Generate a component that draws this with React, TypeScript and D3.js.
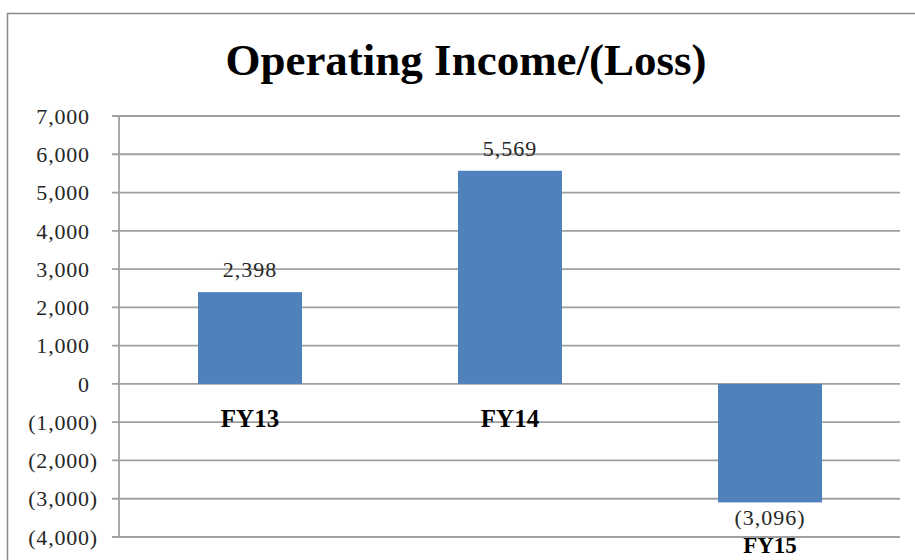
import React from "react";
import * as d3 from "d3";

const categories = ["FY13", "FY14", "FY15"];
const values = [2398, 5569, -3096];
const yTickValues = [-4000, -3000, -2000, -1000, 0, 1000, 2000, 3000, 4000, 5000, 6000, 7000];
const title = "Operating Income/(Loss)";

const width = 915;
const height = 560;
const margin = { top: 116, right: 15, bottom: 23, left: 120 };

// Excel style accounting format: negatives in parentheses
const fmt = (v: number) => (v < 0 ? `(${d3.format(",")(-v)})` : d3.format(",")(v));

const App = () => {
    const xScale = d3
        .scaleBand()
        .domain(categories)
        .range([margin.left, width - margin.right])
        .paddingInner(0.6)
        .paddingOuter(0.3);

    const yScale = d3
        .scaleLinear()
        .domain([-4000, 7000])
        .range([height - margin.bottom, margin.top]);

    const serif = "'Liberation Serif', 'Times New Roman', serif";
    const y0 = yScale(0);

    return (
        <svg
            width={width}
            height={height}
            style={{ position: "absolute", left: 0, top: 0, background: "#fff" }}
        >
            {/* chart frame */}
            <rect x={7.5} y={13.5} width={940} height={600} fill="#fff" stroke="#8a8a8a" strokeWidth={1.5} />

            <text
                x={466}
                y={75}
                textAnchor="middle"
                fontFamily={serif}
                fontWeight="bold"
                fontSize={45}
                fill="#000"
            >
                {title}
            </text>

            {/* gridlines + ticks */}
            {yTickValues.map((t) => (
                <g key={t}>
                    <line
                        x1={margin.left - 8}
                        x2={width - margin.right}
                        y1={yScale(t)}
                        y2={yScale(t)}
                        stroke="#a0a0a0"
                        strokeWidth={1.8}
                    />
                    <text
                        x={98}
                        y={yScale(t)}
                        dy="0.35em"
                        textAnchor="end"
                        fontFamily={serif}
                        fontSize={22}
                        letterSpacing={0.8}
                        fill="#262626"
                    >
                        {fmt(t)}
                        {t >= 0 && <tspan fillOpacity={0}>)</tspan>}
                    </text>
                </g>
            ))}
            <line
                x1={margin.left - 1}
                x2={margin.left - 1}
                y1={yScale(7000)}
                y2={yScale(-4000)}
                stroke="#a0a0a0"
                strokeWidth={1.8}
            />

            {/* bars */}
            {categories.map((c, i) => {
                const v = values[i];
                const x = xScale(c) as number;
                const yTop = yScale(Math.max(0, v));
                const yBot = yScale(Math.min(0, v));
                const cx = x + xScale.bandwidth() / 2;
                return (
                    <g key={c}>
                        <rect x={x} y={yTop} width={xScale.bandwidth()} height={yBot - yTop} fill="#4f81bd" />
                        <text
                            x={cx}
                            y={v >= 0 ? yTop - 15 : yBot + 23}
                            textAnchor="middle"
                            fontFamily={serif}
                            fontSize={22}
                            letterSpacing={1}
                            fill="#262626"
                        >
                            {fmt(v)}
                        </text>
                        <text
                            x={cx}
                            y={v >= 0 ? y0 + 43 : yBot + 51}
                            textAnchor="middle"
                            fontFamily={serif}
                            fontWeight="bold"
                            fontSize={v >= 0 ? 25 : 23}
                            fill="#000"
                        >
                            {c}
                        </text>
                    </g>
                );
            })}
        </svg>
    );
};

export default App;
